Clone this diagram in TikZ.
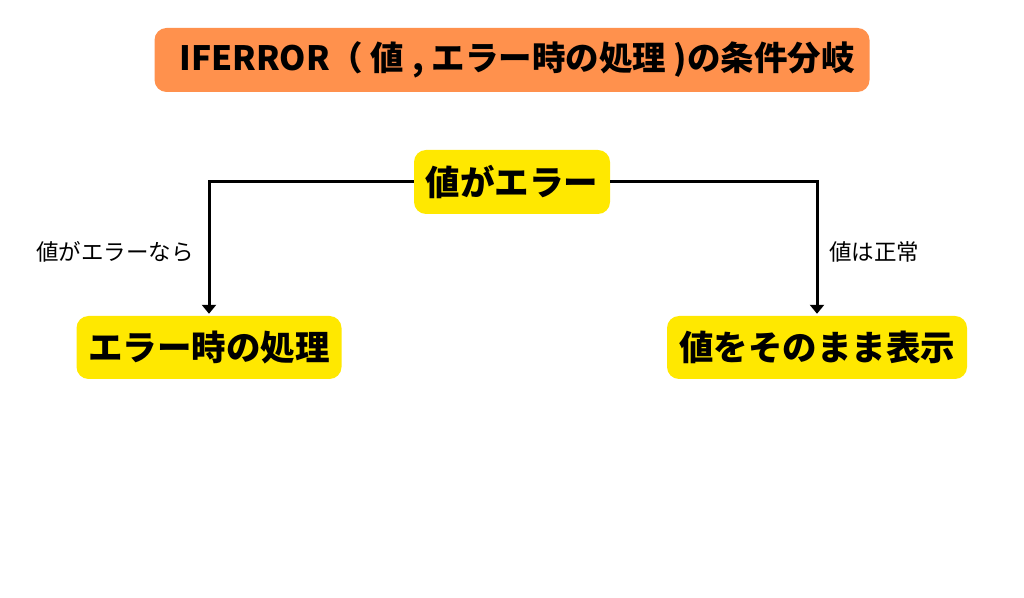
\documentclass[tikz,border=0pt]{standalone}
\usepackage{fontspec}
\setmainfont{Noto Sans CJK JP}
\usetikzlibrary{arrows.meta}
\definecolor{titleorange}{HTML}{FF914D}
\definecolor{boxyellow}{HTML}{FFE800}
\newcommand{\fsz}[1]{\fontsize{#1}{#1}\selectfont}

\begin{document}
\begin{tikzpicture}[x=1pt,y=1pt,
  box/.style={rounded corners=12pt, minimum height=63pt, inner sep=0pt, fill=boxyellow,
    font=\bfseries\fsz{34.5}},
  flow/.style={line width=3pt, -{Triangle[width=14pt,length=9pt]}, shorten >=2pt},
  lbl/.style={inner sep=0pt, font=\fsz{22.5}}]
\useasboundingbox (0,0) rectangle (1024,597);
\node[box, fill=titleorange, minimum width=715pt, minimum height=64pt,
  font=\bfseries\fsz{33.5}] (title) at (512,537) {\hspace{10pt}IFERROR（ 値 , エラー時の処理 )の条件分岐};
\node[box, minimum width=196pt, minimum height=64pt] (cond) at (512,415) {値がエラー};
\node[box, minimum width=265pt] (err) at (209,249.5) {エラー時の処理};
\node[box, minimum width=300pt] (ok) at (817,249.5) {値をそのまま表示};
%\path (0,0) node {\phantom{x}};
\draw[flow] (cond.west) -| (err.north);
\draw[flow] (cond.east) -| (ok.north);
\node[lbl] (lblerr) at (115,345) {値がエラーなら};
\node[lbl] (lblok) at (874,345) {値は正常};
\end{tikzpicture}
\end{document}
